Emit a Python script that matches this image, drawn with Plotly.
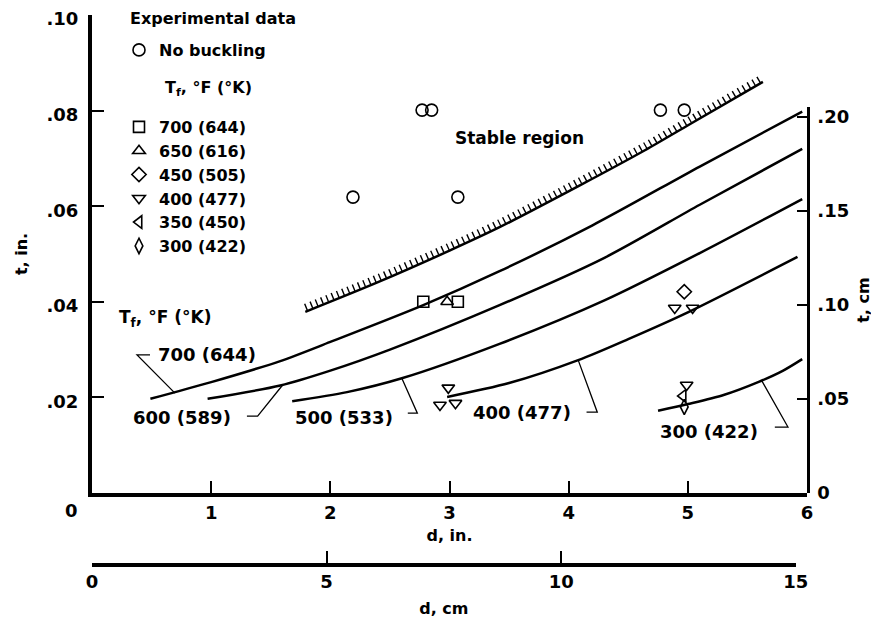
import plotly.graph_objects as go

# ---------------- data (d in inches, t in inches) ----------------
# stability boundary (hatched)
bound_d = [1.79, 2.40, 3.00, 3.42, 4.09, 4.64, 5.02, 5.63]
bound_t = [0.0379, 0.0441, 0.0507, 0.0556, 0.0643, 0.0717, 0.0772, 0.0860]

# theory curves, T_f labels
c700_d = [0.49, 1.00, 1.58, 2.00, 2.78, 3.42, 4.20, 5.10, 5.96]
c700_t = [0.0197, 0.0232, 0.0276, 0.0316, 0.0393, 0.0464, 0.0560, 0.0683, 0.0798]
c600_d = [0.97, 1.58, 2.00, 2.50, 3.42, 4.30, 5.10, 5.96]
c600_t = [0.0197, 0.0225, 0.0256, 0.0300, 0.0393, 0.0492, 0.0603, 0.0720]
c500_d = [1.68, 2.14, 2.60, 3.42, 4.30, 5.10, 5.96]
c500_t = [0.0192, 0.0211, 0.0240, 0.0312, 0.0403, 0.0502, 0.0615]
c400_d = [2.98, 3.50, 4.08, 4.50, 5.00, 5.92]
c400_t = [0.0201, 0.0230, 0.0278, 0.0322, 0.0378, 0.0494]
c300_d = [4.75, 5.00, 5.30, 5.60, 5.80, 5.96]
c300_t = [0.0172, 0.0186, 0.0205, 0.0233, 0.0256, 0.0280]

curve_labels = ["700 (644)", "600 (589)", "500 (533)", "400 (477)", "300 (422)"]

# experimental data
nb_d = [2.19, 3.07, 2.77, 2.85, 4.77, 4.97]
nb_t = [0.0619, 0.0619, 0.0801, 0.0801, 0.0801, 0.0801]
e700_d = [2.78, 3.07]
e700_t = [0.0400, 0.0400]
e650_d = [2.98]
e650_t = [0.0400]
e450_d = [4.97]
e450_t = [0.0421]
e400_d = [2.99, 2.92, 3.05, 4.89, 5.04, 4.99]
e400_t = [0.0220, 0.0184, 0.0188, 0.0387, 0.0387, 0.0226]
e350_d = [4.96]
e350_t = [0.0203]
e300_d = [4.97]
e300_t = [0.0180]

legend_names = ["700 (644)", "650 (616)", "450 (505)", "400 (477)", "350 (450)", "300 (422)"]

yin_ticks = [0.02, 0.04, 0.06, 0.08, 0.10]
yin_text = [".02", ".04", ".06", ".08", ".10"]
ycm_ticks = [0, 0.05, 0.10, 0.15, 0.20]
ycm_text = ["0", ".05", ".10", ".15", ".20"]
xin_ticks = [1, 2, 3, 4, 5, 6]
xcm_ticks = [0, 5, 10, 15]

FONT = "DejaVu Sans"
OFF = 8                      # page body margin of the html page
W, H = 879 - OFF, 618 - OFF
PL, PR, PT, PB = 92, 807, 15, 565   # plot area in page pixels
ML, MR, MT, MB = PL - OFF, W - (PR - OFF), PT - OFF, H - (PB - OFF)
plot_w, plot_h = PR - PL, PB - PT
y0_px = 493  # page row of t = 0
d0 = (PB - y0_px) / plot_h
cm_top = 0.205
y2_top = d0 + (1 - d0) * (cm_top / 2.54 / 0.10)


def px(x):
    return (x - PL) / plot_w


def py(y):
    return (PB - y) / plot_h


def f(size):
    return dict(family=FONT, size=size, color="black", weight="bold")


fig = go.Figure()

# hatched stability boundary
fig.add_trace(go.Scatter(x=bound_d, y=bound_t, mode="lines",
                         line=dict(color="black", width=2.5, shape="spline", smoothing=0.8),
                         showlegend=False, hoverinfo="skip"))
fig.add_trace(go.Scatter(x=bound_d, y=[v + 0.00095 for v in bound_t], mode="lines",
                         line=dict(color="black", width=7, shape="spline", smoothing=0.8, dash="1.4px,4.3px"),
                         showlegend=False, hoverinfo="skip"))

for cd, ct in [(c700_d, c700_t), (c600_d, c600_t), (c500_d, c500_t), (c400_d, c400_t), (c300_d, c300_t)]:
    fig.add_trace(go.Scatter(x=cd, y=ct, mode="lines",
                             line=dict(color="black", width=2.5, shape="spline", smoothing=0.8),
                             showlegend=False, hoverinfo="skip"))

fig.add_trace(go.Scatter(x=nb_d, y=nb_t, mode="markers", name="No buckling", legend="legend",
                         marker=dict(color="black", symbol="circle-open", size=12, line=dict(width=1.6))))
syms = ["square-open", "triangle-up-open", "diamond-open", "triangle-down-open", "triangle-left-open", "diamond-tall-open"]
sets = [(e700_d, e700_t), (e650_d, e650_t), (e450_d, e450_t), (e400_d, e400_t), (e350_d, e350_t), (e300_d, e300_t)]
for (xd, yd), s, nm in zip(sets, syms, legend_names):
    fig.add_trace(go.Scatter(x=xd, y=yd, mode="markers", name=nm, legend="legend2",
                             marker=dict(color="black", symbol=s, size=11, line=dict(width=1.6))))

# curve labels with leader lines
lab_pos = [(0.54, 0.0289), (0.33, 0.0159), (1.69, 0.0159), (3.18, 0.0169), (4.75, 0.0128)]
leaders = [
    [(0.487, 0.0289), (0.378, 0.0289), (0.696, 0.0209)],
    [(1.30, 0.0161), (1.39, 0.0161), (1.60, 0.0226)],
    [(2.65, 0.0167), (2.73, 0.0167), (2.60, 0.0240)],
    [(4.15, 0.0169), (4.24, 0.0169), (4.08, 0.0278)],
    [(5.73, 0.0138), (5.84, 0.0138), (5.62, 0.0235)],
]
for (lx, ly), txt, ld in zip(lab_pos, curve_labels, leaders):
    fig.add_annotation(x=lx, y=ly, text=txt, showarrow=False, xanchor="left", yanchor="middle", font=f(18))
    path = "M {} {} L {} {} L {} {}".format(ld[0][0], ld[0][1], ld[1][0], ld[1][1], ld[2][0], ld[2][1])
    fig.add_shape(type="path", path=path, xref="x", yref="y", line=dict(color="black", width=1.3))

fig.add_annotation(x=0.21, y=0.0366, text="T<sub>f</sub>, °F (°K)", showarrow=False, xanchor="left",
                   yanchor="middle", font=f(17))
fig.add_annotation(x=3.03, y=0.0743, text="Stable region", showarrow=False, xanchor="left",
                   yanchor="middle", font=f(17))
fig.add_annotation(x=px(71), y=py(510), xref="paper", yref="paper", text="0", showarrow=False,
                   xanchor="center", yanchor="middle", font=f(18))

# legend headings
fig.add_annotation(x=px(128), y=py(18), xref="paper", yref="paper", text="Experimental data", showarrow=False,
                   xanchor="left", yanchor="middle", font=f(16))
fig.add_annotation(x=px(163), y=py(89), xref="paper", yref="paper", text="T<sub>f</sub>, °F (°K)",
                   showarrow=False, xanchor="left", yanchor="middle", font=f(16))

fig.update_layout(
    width=W, height=H, margin=dict(l=ML, r=MR, t=MT, b=MB, autoexpand=False),
    plot_bgcolor="rgba(0,0,0,0)", paper_bgcolor="white",
    font=f(16),
    showlegend=True,
    legend=dict(x=px(119), y=py(33), xanchor="left", yanchor="top", bgcolor="rgba(0,0,0,0)",
                font=f(16), itemwidth=30),
    legend2=dict(x=px(119), y=py(110), xanchor="left", yanchor="top", bgcolor="rgba(0,0,0,0)",
                 font=f(16), itemwidth=30),
    xaxis=dict(range=[0, 6], domain=[0, 1], anchor="y", showline=True, linecolor="black", linewidth=4,
               ticks="inside", ticklen=12, tickwidth=2, tickcolor="black", tickvals=xin_ticks,
               ticktext=[str(v) for v in xin_ticks], showgrid=False, zeroline=False, automargin=False,
               title=dict(text="d, in.", standoff=9, font=f(16)), tickfont=f(18)),
    xaxis2=dict(range=[0, 15], domain=[0, 15 / 2.54 / 6], anchor="free", position=0,
                showline=True, linecolor="black", linewidth=3.5, ticks="inside", ticklen=12, tickwidth=2,
                tickcolor="black", tickvals=xcm_ticks, ticktext=[str(v) for v in xcm_ticks], showgrid=False,
                zeroline=False, automargin=False, title=dict(text="d, cm", standoff=10, font=f(16)),
                tickfont=f(18)),
    yaxis=dict(range=[0, 0.10], domain=[d0, 1], anchor="x", showline=True, linecolor="black", linewidth=4,
               ticks="inside", ticklen=12, tickwidth=2, tickcolor="black", tickvals=yin_ticks, ticktext=yin_text,
               showgrid=False, zeroline=False, automargin=False, ticklabelstandoff=6, ticklabelshift=4,
               ticklabeloverflow="allow",
               title=dict(text="t, in.", standoff=16, font=f(16)), tickfont=f(18)),
    yaxis2=dict(range=[0, cm_top], domain=[d0, y2_top], anchor="x", side="right", showline=True,
                linecolor="black", linewidth=2.5, ticks="inside", ticklen=10, tickwidth=2, tickcolor="black",
                tickvals=ycm_ticks, ticktext=ycm_text, showgrid=False, zeroline=False, automargin=False,
                ticklabelstandoff=4, title=dict(text="t, cm", standoff=10, font=f(16)), tickfont=f(18)),
)
# invisible trace so the secondary axes are drawn
fig.add_trace(go.Scatter(x=[0], y=[0], xaxis="x2", yaxis="y2", mode="markers", marker=dict(opacity=0),
                         showlegend=False, hoverinfo="skip"))

fig.write_html("out.html")
